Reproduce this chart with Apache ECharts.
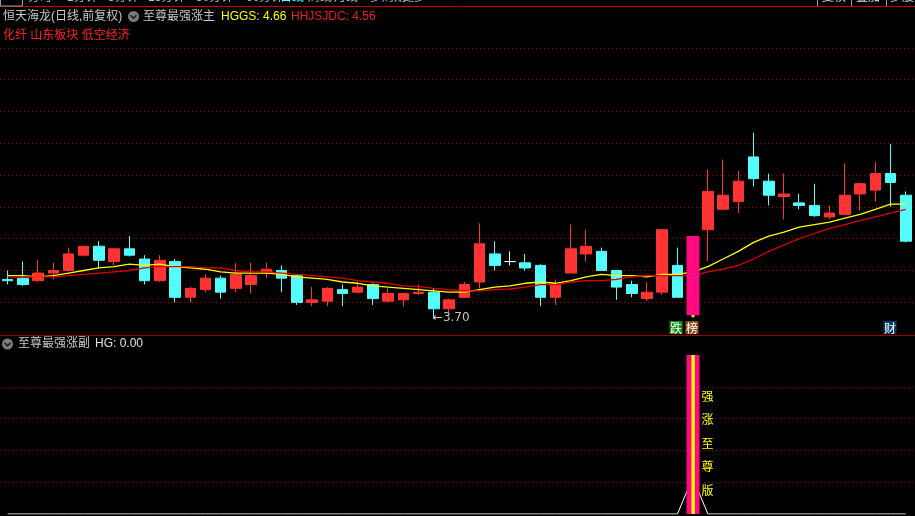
<!DOCTYPE html>
<html><head><meta charset="utf-8">
<script src="https://cdn.jsdelivr.net/npm/echarts@6/dist/echarts.min.js"></script>
<style>html,body{margin:0;padding:0;background:#000;overflow:hidden}#c{width:915px;height:516px}</style>
</head><body><div id="c"></div>
<script>
// ---- data ----
const days = ['1','2','3','4','5','6','7','8','9','10','11','12','13','14','15','16','17','18','19','20',
  '21','22','23','24','25','26','27','28','29','30','31','32','33','34','35','36','37','38','39','40',
  '41','42','43','44','45','46','47','48','49','50','51','52','53','54','55','56','57','58','59','60'];
const opens  = [4.01,4.02,4.00,4.06,4.08,4.20,4.27,4.15,4.25,4.17, 4.00,4.15,3.87,3.93,4.02,3.94,3.97,4.07,4.08,4.04,
  3.83,3.84,3.93,3.91,3.97,3.84,3.85,3.90,3.91,3.78, 3.87,3.99,4.21,4.15,4.14,4.12,3.87,4.06,4.21,4.23,
  4.08,3.97,3.86,3.91,4.12,3.76,4.40,4.56,4.62,4.97, 4.78,4.66,4.61,4.59,4.50,4.52,4.68,4.71,4.84,4.67];
const closes = [4.00,3.97,4.06,4.08,4.21,4.27,4.16,4.25,4.20,4.00, 4.16,3.87,3.94,4.02,3.91,4.05,4.04,4.09,4.02,3.83,
  3.85,3.94,3.90,3.95,3.86,3.90,3.90,3.91,3.78,3.85, 3.97,4.29,4.12,4.15,4.10,3.87,3.97,4.25,4.27,4.08,
  3.95,3.90,3.91,4.40,3.87,4.33,4.70,4.67,4.78,4.80, 4.67,4.68,4.59,4.51,4.53,4.67,4.76,4.84,4.77,4.31];
const lows   = [3.97,3.96,3.99,4.01,4.07,4.19,4.10,4.12,4.19,3.97, 3.99,3.83,3.83,3.91,3.86,3.91,3.90,4.02,3.91,3.81,
  3.80,3.80,3.80,3.90,3.81,3.83,3.80,3.89,3.70,3.74, 3.87,3.94,4.08,4.12,4.08,3.80,3.81,4.06,4.15,4.08,
  3.85,3.87,3.84,3.89,3.87,3.73,4.15,4.56,4.53,4.74, 4.59,4.48,4.56,4.50,4.48,4.52,4.55,4.62,4.58,4.30];
const highs  = [4.08,4.15,4.16,4.14,4.26,4.27,4.31,4.25,4.35,4.20, 4.20,4.17,3.95,4.05,4.04,4.14,4.14,4.14,4.12,4.05,
  3.95,3.95,3.97,3.99,3.98,3.94,3.90,3.97,3.94,3.86, 3.99,4.45,4.31,4.23,4.21,4.13,4.01,4.44,4.40,4.26,
  4.08,4.00,3.99,4.40,4.26,4.35,4.87,4.95,4.86,5.16, 4.84,4.84,4.68,4.76,4.59,4.92,4.77,4.93,5.07,4.70];
const hggs   = [4.04,4.04,4.03,4.04,4.06,4.08,4.10,4.11,4.13,4.12, 4.13,4.11,4.10,4.09,4.07,4.06,4.06,4.06,4.05,4.03,
  4.02,4.01,3.99,3.98,3.96,3.95,3.94,3.93,3.92,3.91, 3.91,3.93,3.95,3.96,3.98,3.99,3.98,4.00,4.03,4.05,
  4.04,4.04,4.03,4.05,4.05,4.07,4.11,4.17,4.23,4.30, 4.35,4.38,4.42,4.44,4.46,4.49,4.52,4.56,4.60,4.60];
const hhjsjdc = [4.03,4.03,4.03,4.03,4.04,4.05,4.06,4.07,4.08,4.10, 4.11,4.11,4.11,4.10,4.10,4.08,4.07,4.07,4.06,4.05,
  4.04,4.03,4.02,4.00,3.99,3.98,3.96,3.955,3.94,3.93, 3.92,3.92,3.93,3.935,3.95,3.97,3.97,3.99,4.00,4.00,
  4.01,4.03,4.04,4.04,4.04,4.04,4.07,4.09,4.12,4.17, 4.23,4.28,4.33,4.37,4.41,4.44,4.47,4.50,4.53,4.56];
const hg = [0,0,0,0,0,0,0,0,0,0, 0,0,0,0,0,0,0,0,0,0, 0,0,0,0,0,0,0,0,0,0,
  0,0,0,0,0,0,0,0,0,0, 0,0,0,0,0,1.15,0,0,0,0, 0,0,0,0,0,0,0,0,0,0];
const signalBars = [45];
const signalTop = [4.35];
const signalBottom = [3.73];
const subSignal = [5];
const signalText = ['强\n涨\n至\n尊\n版'];
const markerBars = [44, 45, 58];
const markerText = ['跌', '榜', '财'];
const titleText = '恒天海龙(日线,前复权)';
const mainName = '至尊最强涨主';
const subName = '至尊最强涨副';
const hggsLabel = 'HGGS: 4.66';
const hhjLabel = 'HHJSJDC: 4.56';
const hgLabel = 'HG: 0.00';
const conceptText = '化纤 山东板块 低空经济';
const toolbarItems = ['分时','1分钟','5分钟','15分钟','30分钟','60分钟','日线','周线','月线','多周期','更多'];

// ---- chart ----
const FONT = '"Liberation Sans","Noto Sans CJK SC",sans-serif';
const RED = '#ff3333', CYAN = '#54fcfc';
const markerColors = ['#138a13', '#8a4a12', '#0b3b6e'];

const candleData = opens.map((o, i) => {
  const v = [o, closes[i], lows[i], highs[i]];
  if (o === closes[i]) return {value: v, itemStyle: {color: '#fff', color0: '#fff', borderColor: '#fff', borderColor0: '#fff'}};
  return v;
});
let lowIdx = 0;
lows.forEach((l, i) => { if (l < lows[lowIdx]) lowIdx = i; });

const signalMain = signalBars.map((b, k) => [b, signalBottom[k], signalTop[k]]);
const signalSub = signalBars.map((b, k) => [b, subSignal[k], k]);
const markerData = markerBars.map((b, k) => [b, k]);

function icon(cx, cy) {
  return [
    {type: 'circle', shape: {cx, cy, r: 5.5}, style: {fill: '#7c7c7c'}, z: 100},
    {type: 'polyline', shape: {points: [[cx - 3, cy - 1.2], [cx, cy + 1.8], [cx + 3, cy - 1.2]]}, style: {stroke: '#1c1c1c', lineWidth: 1.6, fill: null}, z: 101}
  ];
}
function txt(x, y, text, fill, extra) {
  return Object.assign({type: 'text', x, y, z: 100, style: {text, fill, font: '12px ' + FONT, verticalAlign: 'middle', textAlign: 'left'}}, extra || {});
}

const toolbarX = [28, 67, 108, 148, 196, 246, 280, 308, 334, 370, 402];
const graphics = [
  {type: 'line', shape: {x1: 0, y1: 6.5, x2: 915, y2: 6.5}, style: {stroke: '#c80000', lineWidth: 1}, z: 90},
  {type: 'line', shape: {x1: 0, y1: 335.5, x2: 915, y2: 335.5}, style: {stroke: '#a00000', lineWidth: 1}, z: 90},
  {type: 'rect', shape: {x: 0.5, y: -3, width: 22, height: 9}, style: {stroke: '#9a9a9a', fill: null, lineWidth: 1}, z: 90},
  {type: 'line', shape: {x1: 817.5, y1: 0, x2: 817.5, y2: 6}, style: {stroke: '#9a9a9a'}, z: 90},
  {type: 'line', shape: {x1: 851.5, y1: 0, x2: 851.5, y2: 6}, style: {stroke: '#9a9a9a'}, z: 90},
  {type: 'line', shape: {x1: 886.5, y1: 0, x2: 886.5, y2: 6}, style: {stroke: '#9a9a9a'}, z: 90},
  txt(822, -2, '复权', '#d0d0d0'), txt(856, -2, '叠加', '#d0d0d0'), txt(890, -2, '多股', '#d0d0d0'),
  ...toolbarItems.map((t, i) => txt(toolbarX[i], -2, t, i === 6 ? '#50ffff' : '#b8b8b8')),
  txt(3, 16.5, titleText, '#c8c8c8'),
  ...icon(133.5, 16.5),
  txt(143, 16.5, mainName, '#c8c8c8'),
  txt(221, 16.5, hggsLabel, '#ffff00'),
  txt(291, 16.5, hhjLabel, '#e82020'),
  txt(3, 36, conceptText, '#ff2020'),
  ...icon(7.5, 344),
  txt(18, 344, subName, '#c8c8c8'),
  txt(95, 344, hgLabel, '#e0e0e0')
];

const gridLine = {show: true, showMinLine: false, showMaxLine: false, lineStyle: {color: '#a00000', type: [1, 3], width: 1}};

const option = {
  backgroundColor: '#000',
  animation: false,
  grid: [
    {left: -1.6, width: 915, top: 16, height: 318},
    {left: -1.6, width: 915, top: 355, height: 159}
  ],
  xAxis: [
    {type: 'category', data: days, gridIndex: 0, show: false},
    {type: 'category', data: days, gridIndex: 1, show: false}
  ],
  yAxis: [
    {type: 'value', gridIndex: 0, min: 3.5824, max: 6.0746, show: false},
    {type: 'value', gridIndex: 0, min: 0, max: 10, interval: 1, axisLabel: {show: false}, axisLine: {show: false}, axisTick: {show: false}, splitLine: gridLine},
    {type: 'value', gridIndex: 1, min: 0, max: 5, interval: 1, axisLabel: {show: false}, axisLine: {show: false}, axisTick: {show: false}, splitLine: gridLine}
  ],
  graphic: graphics,
  series: [
    {
      type: 'candlestick', xAxisIndex: 0, yAxisIndex: 0, data: candleData, barWidth: 11, z: 2,
      itemStyle: {color: RED, color0: CYAN, borderColor: RED, borderColor0: CYAN, borderWidth: 1},
      markPoint: {
        symbol: 'circle', symbolSize: 0, silent: true,
        data: [{coord: [lowIdx, lows[lowIdx]], value: lows[lowIdx]}],
        label: {show: true, position: [-1, -1], align: 'left', verticalAlign: 'middle', color: '#c4c4c4', fontSize: 12, fontFamily: '"DejaVu Sans",' + FONT,
          formatter: p => '←' + p.value.toFixed(2)}
      }
    },
    {type: 'line', xAxisIndex: 0, yAxisIndex: 0, data: hggs, symbol: 'none', z: 3, lineStyle: {color: '#ffff00', width: 1.3}},
    {type: 'line', xAxisIndex: 0, yAxisIndex: 0, data: hhjsjdc, symbol: 'none', z: 3, lineStyle: {color: '#e00000', width: 1.3}},
    {
      type: 'custom', xAxisIndex: 0, yAxisIndex: 0, data: signalMain, z: 5,
      renderItem: (params, api) => {
        const top = api.coord([api.value(0), api.value(2)]);
        const bot = api.coord([api.value(0), api.value(1)]);
        const x = Math.round(top[0]) - 6.5;
        return {type: 'group', children: [
          {type: 'rect', shape: {x, y: top[1], width: 13, height: bot[1] - top[1]}, style: {fill: '#ff0a80'}},
          {type: 'rect', shape: {x: x + 5, y: bot[1], width: 3, height: 2}, style: {fill: '#ffff00'}}
        ]};
      }
    },
    {
      type: 'custom', xAxisIndex: 0, yAxisIndex: 0, data: markerData, z: 6,
      renderItem: (params, api) => {
        const p = api.coord([api.value(0), 4]);
        const cs = params.coordSys;
        const k = api.value(1);
        const x = Math.round(p[0]) - 7.5, y = cs.y + cs.height - 13;
        return {type: 'group', children: [
          {type: 'rect', shape: {x, y, width: 13, height: 13}, style: {fill: markerColors[k]}},
          {type: 'text', style: {text: markerText[k], x: x + 6.5, y: y + 7, fill: '#fff', font: '12px "Noto Sans CJK SC"', align: 'center', verticalAlign: 'middle'}}
        ]};
      }
    },
    {type: 'line', xAxisIndex: 1, yAxisIndex: 2, data: hg, symbol: 'none', z: 3, lineStyle: {color: '#ffffff', width: 1}},
    {
      type: 'custom', xAxisIndex: 1, yAxisIndex: 2, data: signalSub, z: 5,
      renderItem: (params, api) => {
        const top = api.coord([api.value(0), api.value(1)]);
        const bot = api.coord([api.value(0), 0]);
        const x = Math.round(top[0]) - 6.5;
        const k = api.value(2);
        return {type: 'group', children: [
          {type: 'rect', shape: {x, y: top[1], width: 13, height: bot[1] - top[1]}, style: {fill: '#ff0a80'}},
          {type: 'rect', shape: {x: x + 5, y: top[1], width: 3.3, height: bot[1] - top[1]}, style: {fill: '#ffff00'}},
          {type: 'text', style: {text: signalText[k], x: x + 15, y: top[1] + 88, fill: '#ffff00', font: '12px "Noto Sans CJK SC"', lineHeight: 23.5, align: 'left', verticalAlign: 'middle'}}
        ]};
      }
    }
  ]
};
const chart = echarts.init(document.getElementById('c'));
chart.setOption(option);
</script></body></html>
